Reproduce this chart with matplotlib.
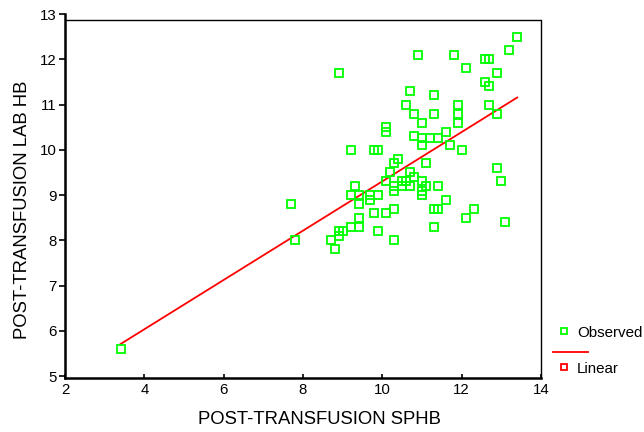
import numpy as np
import matplotlib
matplotlib.use("Agg")
import matplotlib.pyplot as plt
from matplotlib.lines import Line2D

plt.rcParams['font.family'] = ['Liberation Sans', 'DejaVu Sans']

sphb = [3.4, 7.7, 7.8, 8.7, 8.8, 8.9, 8.9, 9.0, 8.9, 9.2, 9.2, 9.2, 9.3, 9.4, 9.4,
        9.4, 9.4, 9.7, 9.7, 9.8, 9.9, 9.8, 9.9, 9.9, 10.1, 10.1, 10.1, 10.1, 10.2,
        10.3, 10.4, 10.3, 10.3, 10.3, 10.3, 10.5, 10.6, 10.5, 10.7, 10.6, 10.7,
        10.7, 10.8, 10.8, 10.8, 10.9, 11.0, 11.0, 11.2, 11.4, 11.0, 11.0, 11.0,
        11.0, 11.1, 11.1, 11.3, 11.3, 11.3, 11.4, 11.3, 11.4, 11.6, 11.6, 11.7,
        11.8, 11.9, 11.9, 11.9, 12.0, 12.1, 12.1, 12.3, 12.6, 12.7, 12.6, 12.7,
        12.7, 12.9, 12.9, 12.9, 13.0, 13.1, 13.2, 13.4]
lab_hb = [5.6, 8.8, 8.0, 8.0, 7.8, 8.1, 8.2, 8.2, 11.7, 10.0, 9.0, 8.3, 9.2, 9.0, 8.8,
          8.5, 8.3, 9.0, 8.9, 10.0, 10.0, 8.6, 9.0, 8.2, 10.5, 10.4, 9.3, 8.6, 9.5,
          9.7, 9.8, 9.2, 9.1, 8.7, 8.0, 9.3, 9.3, 9.2, 9.2, 11.0, 11.3,
          9.5, 9.4, 10.8, 10.3, 12.1, 10.6, 10.25, 10.25, 10.25, 10.1, 9.3, 9.1,
          9.0, 9.7, 9.2, 11.2, 10.8, 8.7, 8.7, 8.3, 9.2, 10.4, 8.9, 10.1,
          12.1, 11.0, 10.8, 10.6, 10.0, 11.8, 8.5, 8.7, 12.0, 12.0, 11.5, 11.4,
          11.0, 11.7, 10.8, 9.6, 9.3, 8.4, 12.2, 12.5]

x_ticks = [2, 4, 6, 8, 10, 12, 14]
y_ticks = [5, 6, 7, 8, 9, 10, 11, 12, 13]

x = np.array(sphb)
y = np.array(lab_hb)
slope, intercept = np.polyfit(x, y, 1)
xl = np.array([x.min(), x.max()])
yl = intercept + slope * xl

W, H = 644, 432
fig = plt.figure(figsize=(W / 100, H / 100), dpi=100)
ax = fig.add_axes([65 / W, 1 - 377.5 / H, 476 / W, (377.5 - 14) / H])

ax.plot(x, y, linestyle='none', marker='s', ms=5.2, mfc='none',
        mec='#00ff00', mew=1.3, zorder=3)
ax.plot(xl, yl, color='#ff0000', lw=1.3, zorder=2)

ax.set_xlim(2, 14)
ax.set_ylim(4.97, 13.0)
ax.set_xticks(x_ticks)
ax.set_yticks(y_ticks)
ax.tick_params(axis='x', direction='in', length=3, width=1.2, labelsize=10.8, pad=4)
ax.tick_params(axis='y', direction='out', length=4, width=1.2, labelsize=10.8, pad=2)

ax.spines['top'].set_visible(False)
ax.spines['left'].set_linewidth(1.8)
ax.spines['bottom'].set_linewidth(1.8)
ax.spines['right'].set_linewidth(1.0)
ax.spines['right'].set_bounds(4.97, 12.87)
ax.axhline(12.87, color='black', lw=1.0)

ax.set_xlabel('POST-TRANSFUSION SPHB', fontsize=13.3)
ax.xaxis.set_label_coords((319 - 65) / 476, -(411 - 377.5) / 363.5)
ax.set_ylabel('POST-TRANSFUSION LAB HB', fontsize=13.3)
ax.yaxis.set_label_coords((31 - 65) / 476, (377.5 - 210) / 363.5)

def fx(px):
    return px / W

def fy(py):
    return 1 - py / H

fig.add_artist(Line2D([fx(564)], [fy(331)], marker='s', ms=4.5, mfc='none',
                      mec='#00ff00', mew=1.3, linestyle='none'))
fig.text(fx(577), fy(333), 'Observed', fontsize=10.9, va='center', ha='left')
fig.add_artist(Line2D([fx(553), fx(588)], [fy(352), fy(352)], color='#ff0000', lw=1.3))
fig.add_artist(Line2D([fx(564)], [fy(367)], marker='s', ms=4.5, mfc='none',
                      mec='#ff0000', mew=1.3, linestyle='none'))
fig.text(fx(577), fy(369), 'Linear', fontsize=10.9, va='center', ha='left')

fig.savefig('out.png', dpi=100)
